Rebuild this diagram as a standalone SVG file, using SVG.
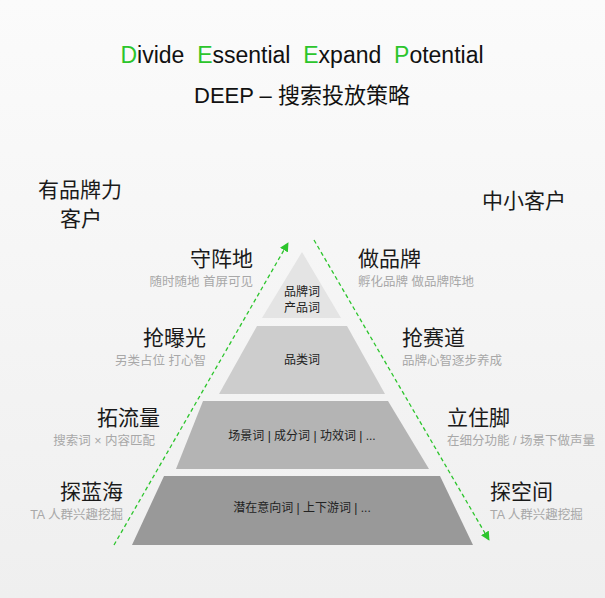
<svg xmlns="http://www.w3.org/2000/svg" width="605" height="598" viewBox="0 0 605 598">
<style>
text{font-family:"Liberation Sans","Noto Sans CJK SC",sans-serif}
.h{font-size:21px;fill:#1a1a1a}
.s{font-size:12.5px;fill:#a8a8a8}
.t{font-size:12px;fill:#222;text-anchor:middle}
.g{fill:#2cc52c}
.a{stroke:#2cc52c;stroke-width:1.3;stroke-dasharray:4 3;fill:none}
</style>
<defs>
<linearGradient id="bg" x1="0" y1="0" x2="0" y2="1"><stop offset="0" stop-color="#fbfbfb"/><stop offset="1" stop-color="#efefef"/></linearGradient>
<marker id="m" viewBox="0 0 10 10" refX="9" refY="5" markerWidth="7" markerHeight="7" orient="auto"><path d="M0,0L10,5L0,10z" fill="#2cc52c"/></marker>
</defs>
<rect width="605" height="598" fill="url(#bg)"/>
<g id="title">
<text x="302" y="63" font-size="23" text-anchor="middle" fill="#111" xml:space="preserve"><tspan class="g">D</tspan>ivide  <tspan class="g">E</tspan>ssential  <tspan class="g">E</tspan>xpand  <tspan class="g">P</tspan>otential</text>
<text x="302" y="103" font-size="22" text-anchor="middle" fill="#111">DEEP – 搜索投放策略</text>
</g>
<g id="brand"><text class="h" x="38" y="197">有品牌力</text><text class="h" x="60" y="226">客户</text></g>
<g id="smb"><text class="h" x="482" y="208">中小客户</text></g>
<g id="tier1"><polygon points="302,252 341,318 262,318" fill="#e4e4e4"/><text class="t" x="302" y="296">品牌词</text><text class="t" x="302" y="312">产品词</text></g>
<g id="tier2"><polygon points="257,326 347,326 385,394 219,394" fill="#cdcdcd"/><text class="t" x="302" y="364">品类词</text></g>
<g id="tier3"><polygon points="203,401 388,401 429,469 176,469" fill="#b4b4b4"/><text class="t" x="302" y="440">场景词 | 成分词 | 功效词 | ...</text></g>
<g id="tier4"><polygon points="164,476 440,476 473,545 132,545" fill="#999"/><text class="t" x="302" y="512">潜在意向词 | 上下游词 | ...</text></g>
<g id="left" text-anchor="end">
<text class="h" x="253" y="266">守阵地</text><text class="s" x="253" y="286">随时随地 首屏可见</text>
<text class="h" x="206" y="345">抢曝光</text><text class="s" x="206" y="365">另类占位 打心智</text>
<text class="h" x="160" y="425">拓流量</text><text class="s" x="155" y="445">搜索词 × 内容匹配</text>
<text class="h" x="123" y="499">探蓝海</text><text class="s" x="123" y="519">TA 人群兴趣挖掘</text>
</g>
<g id="right">
<text class="h" x="358" y="266">做品牌</text><text class="s" x="358" y="286">孵化品牌 做品牌阵地</text>
<text class="h" x="402" y="345">抢赛道</text><text class="s" x="402" y="365">品牌心智逐步养成</text>
<text class="h" x="447" y="425">立住脚</text><text class="s" x="447" y="445">在细分功能 / 场景下做声量</text>
<text class="h" x="490" y="499">探空间</text><text class="s" x="490" y="519">TA 人群兴趣挖掘</text>
</g>
<g id="connectors">
<line class="a" x1="114" y1="545" x2="288" y2="243" marker-end="url(#m)"/>
<line class="a" x1="314" y1="240" x2="489" y2="540" marker-end="url(#m)"/>
</g>
</svg>
